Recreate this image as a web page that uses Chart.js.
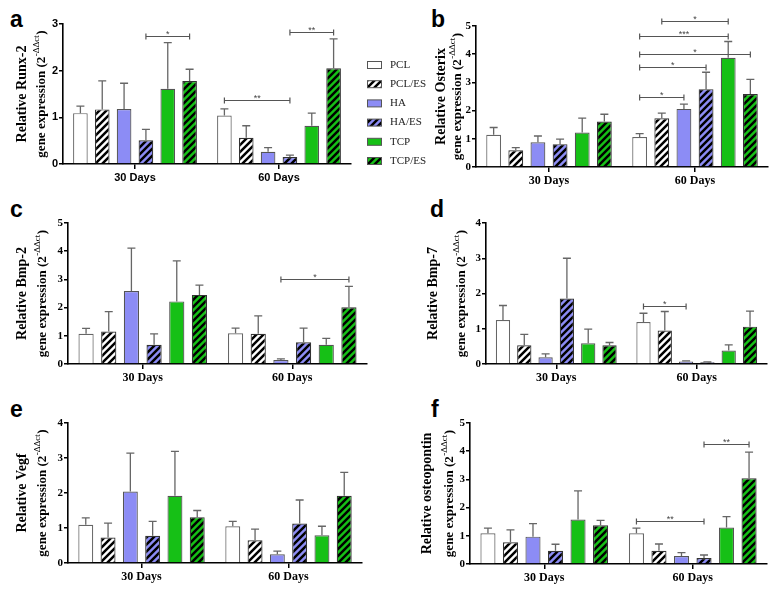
<!DOCTYPE html>
<html>
<head>
<meta charset="utf-8">
<script src="https://cdn.jsdelivr.net/npm/chart.js@4.4.1/dist/chart.umd.min.js"></script>
<style>
  body { margin: 0; background: #fff; width: 781px; height: 594px; position: relative; overflow: hidden; }
  canvas { position: absolute; }
  .tag { position: absolute; font: bold 23px "Liberation Sans", Arial, sans-serif; color: #000; line-height: 1; }
</style>
</head>
<body>
<div class="tag" style="left:10px;top:8px">a</div>
<div class="tag" style="left:431px;top:8px">b</div>
<div class="tag" style="left:10px;top:198px">c</div>
<div class="tag" style="left:430px;top:198px">d</div>
<div class="tag" style="left:10px;top:398px">e</div>
<div class="tag" style="left:431px;top:398px">f</div>

<canvas id="pa" width="430" height="192" style="left:0;top:0"></canvas>
<canvas id="pb" width="381" height="192" style="left:400px;top:0"></canvas>
<canvas id="pc" width="390" height="198" style="left:0;top:192px"></canvas>
<canvas id="pd" width="391" height="198" style="left:390px;top:192px"></canvas>
<canvas id="pe" width="390" height="204" style="left:0;top:390px"></canvas>
<canvas id="pf" width="391" height="204" style="left:390px;top:390px"></canvas>

<script>
const groups = ["PCL", "PCL/ES", "HA", "HA/ES", "TCP", "TCP/ES"];
const days = ["30 Days", "60 Days"];

// ---------------- DATA (mean, sd per group) ----------------
const runx2Day30 = [1.09, 1.17, 1.18, 0.51, 1.61, 1.78];
const runx2Day60 = [1.04, 0.56, 0.26, 0.15, 0.82, 2.05];
const runx2Sd30 = [0.15, 0.61, 0.55, 0.23, 0.99, 0.25];
const runx2Sd60 = [0.14, 0.26, 0.09, 0.04, 0.27, 0.63];
const runx2Sig = [[0, 3, 5, 2.75, "*"], [1, 0, 3, 1.37, "**"], [1, 3, 5, 2.83, "**"]];

const osterixDay30 = [1.14, 0.59, 0.88, 0.81, 1.22, 1.61];
const osterixDay60 = [1.06, 1.73, 2.06, 2.76, 3.87, 2.59];
const osterixSd30 = [0.26, 0.10, 0.22, 0.18, 0.51, 0.26];
const osterixSd60 = [0.12, 0.18, 0.17, 0.60, 0.58, 0.52];
const osterixSig = [[1, 1, 4, 5.19, "*"], [1, 0, 4, 4.66, "***"], [1, 0, 5, 4.01, "*"],
                    [1, 0, 3, 3.53, "*"], [1, 0, 2, 2.47, "*"]];

const bmp2Day30 = [1.07, 1.15, 2.59, 0.68, 2.22, 2.45];
const bmp2Day60 = [1.09, 1.07, 0.14, 0.77, 0.68, 2.01];
const bmp2Sd30 = [0.19, 0.71, 1.52, 0.39, 1.44, 0.35];
const bmp2Sd60 = [0.18, 0.64, 0.04, 0.50, 0.23, 0.74];
const bmp2Sig = [[1, 2, 5, 3.03, "*"]];

const bmp7Day30 = [1.25, 0.53, 0.19, 1.86, 0.59, 0.53];
const bmp7Day60 = [1.19, 0.95, 0.07, 0.05, 0.38, 1.06];
const bmp7Sd30 = [0.41, 0.31, 0.10, 1.14, 0.40, 0.08];
const bmp7Sd60 = [0.25, 0.54, 0.02, 0.01, 0.16, 0.44];
const bmp7Sig = [[1, 0, 2, 1.65, "*"]];

const vegfDay30 = [1.09, 0.73, 2.04, 0.78, 1.92, 1.31];
const vegfDay60 = [1.05, 0.65, 0.25, 1.13, 0.79, 1.92];
const vegfSd30 = [0.20, 0.41, 1.10, 0.41, 1.27, 0.19];
const vegfSd60 = [0.14, 0.32, 0.09, 0.67, 0.26, 0.67];
const vegfSig = [];

const opnDay30 = [1.09, 0.77, 0.97, 0.47, 1.58, 1.37];
const opnDay60 = [1.09, 0.47, 0.28, 0.21, 1.29, 3.04];
const opnSd30 = [0.18, 0.44, 0.46, 0.23, 1.01, 0.18];
const opnSd60 = [0.18, 0.24, 0.12, 0.11, 0.39, 0.93];
const opnSig = [[1, 0, 3, 1.54, "**"], [1, 3, 5, 4.25, "**"]];

// ---------------- ESTILOS ----------------
const SERIF = '"Liberation Serif", "Times New Roman", serif';
const SANS = '"Liberation Sans", Arial, sans-serif';
const WHITE = "#ffffff", PURPLE = "#8c8cf5", GREEN = "#16c016";

function hatch(bg) {
    const c = document.createElement("canvas");
    c.width = c.height = 7;
    const g = c.getContext("2d");
    g.fillStyle = bg;
    g.fillRect(0, 0, 7, 7);
    g.strokeStyle = "#000";
    g.lineWidth = 2.5;
    g.beginPath();
    g.moveTo(-2, 2); g.lineTo(2, -2);
    g.moveTo(-1, 8); g.lineTo(8, -1);
    g.moveTo(5, 9); g.lineTo(9, 5);
    g.stroke();
    return g.createPattern(c, "repeat");
}

const fills = [WHITE, hatch(WHITE), PURPLE, hatch(PURPLE), GREEN, hatch(GREEN)];
const borders = ["#666", "#333", "#555", "#333", "#555", "#333"];

// ---------------- PLUGINS ----------------
const errorBars = {
    id: "errorBars",
    afterDatasetsDraw(chart) {
        const ctx = chart.ctx, y = chart.scales.y;
        ctx.save();
        ctx.strokeStyle = "#666";
        ctx.lineWidth = 1.3;
        chart.data.datasets.forEach((ds, i) => {
            chart.getDatasetMeta(i).data.forEach((bar, j) => {
                const top = y.getPixelForValue(ds.data[j] + ds.sd[j]);
                ctx.beginPath();
                ctx.moveTo(bar.x, bar.y);
                ctx.lineTo(bar.x, top);
                ctx.moveTo(bar.x - 4, top);
                ctx.lineTo(bar.x + 4, top);
                ctx.stroke();
            });
        });
        ctx.restore();
    }
};

const sigBrackets = {
    id: "sigBrackets",
    afterDraw(chart) {
        const ctx = chart.ctx, y = chart.scales.y;
        const sig = chart.options.plugins.sigBrackets.items || [];
        ctx.save();
        ctx.strokeStyle = "#555";
        ctx.fillStyle = "#444";
        ctx.lineWidth = 1.2;
        ctx.font = "9px " + SANS;
        ctx.textAlign = "center";
        ctx.textBaseline = "bottom";
        sig.forEach(([d, a, b, v, s]) => {
            const x1 = chart.getDatasetMeta(a).data[d].x;
            const x2 = chart.getDatasetMeta(b).data[d].x;
            const py = Math.round(y.getPixelForValue(v)) + 0.5;
            ctx.beginPath();
            ctx.moveTo(x1, py); ctx.lineTo(x2, py);
            ctx.moveTo(x1, py - 3); ctx.lineTo(x1, py + 3);
            ctx.moveTo(x2, py - 3); ctx.lineTo(x2, py + 3);
            ctx.stroke();
            ctx.fillText(s, (x1 + x2) / 2, py + 3);
        });
        ctx.restore();
    }
};

const yTitle = {
    id: "yTitle",
    afterDraw(chart) {
        const o = chart.options.plugins.yTitle;
        const a = chart.chartArea, ctx = chart.ctx;
        const cy = (a.top + a.bottom) / 2;
        ctx.save();
        ctx.fillStyle = "#000";
        ctx.textBaseline = "middle";
        ctx.translate(a.left + o.dx1, cy);
        ctx.rotate(-Math.PI / 2);
        ctx.font = "bold 14px " + SERIF;
        ctx.textAlign = "center";
        ctx.fillText(o.text, 0, 0);
        ctx.restore();

        ctx.save();
        ctx.fillStyle = "#000";
        ctx.textBaseline = "middle";
        ctx.textAlign = "left";
        ctx.translate(a.left + o.dx2, cy);
        ctx.rotate(-Math.PI / 2);
        const base = "gene expression (2", sup = "-\u0394\u0394ct", end = ")";
        ctx.font = "bold 13px " + SERIF;
        const w1 = ctx.measureText(base).width, w3 = ctx.measureText(end).width;
        ctx.font = "9px " + SERIF;
        const w2 = ctx.measureText(sup).width + 1;
        let x = -(w1 + w2 + w3) / 2;
        ctx.font = "bold 13px " + SERIF;
        ctx.fillText(base, x, 0);
        x += w1;
        ctx.font = "9px " + SERIF;
        ctx.fillText(sup, x + 0.5, -5);
        x += w2;
        ctx.font = "bold 13px " + SERIF;
        ctx.fillText(end, x, 0);
        ctx.restore();
    }
};

const legendBox = {
    id: "legendBox",
    afterDraw(chart) {
        const o = chart.options.plugins.legendBox;
        if (!o.show) return;
        const ctx = chart.ctx;
        ctx.save();
        ctx.font = "11px " + SERIF;
        ctx.textBaseline = "middle";
        chart.data.datasets.forEach((ds, i) => {
            const cy = o.y + i * 19.2;
            ctx.fillStyle = ds.backgroundColor;
            ctx.fillRect(o.x, cy - 3.5, 15, 7);
            ctx.strokeStyle = "#555";
            ctx.lineWidth = 1;
            ctx.strokeRect(o.x + 0.5, cy - 3.5, 14, 7);
            ctx.fillStyle = "#222";
            ctx.fillText(ds.label, o.x + 23, cy);
        });
        ctx.restore();
    }
};

// ---------------- PAINÉIS ----------------
const Y_AXIS_W = 18, X_AXIS_H = 26;

function criarPainel(p) {
    const [l, r, t, b] = p.area;
    const canvas = document.getElementById(p.id);
    const w = canvas.width, h = canvas.height;
    const fam = p.sans ? SANS : SERIF;

    const datasets = groups.map((g, i) => ({
        label: g,
        data: [p.d30[i], p.d60[i]],
        sd: [p.s30[i], p.s60[i]],
        backgroundColor: fills[i],
        borderColor: borders[i],
        borderWidth: 1.2,
        categoryPercentage: 0.91,
        barPercentage: 0.67
    }));

    return new Chart(canvas, {
        type: "bar",
        data: { labels: days, datasets },
        options: {
            responsive: false,
            animation: false,
            layout: {
                padding: { left: l - Y_AXIS_W, right: w - r, top: t, bottom: h - b - X_AXIS_H }
            },
            plugins: {
                legend: { display: false },
                tooltip: { enabled: false },
                sigBrackets: { items: p.sig },
                yTitle: { text: p.title, dx1: p.dx[0], dx2: p.dx[1] },
                legendBox: { show: !!p.legend, x: 367, y: 65 }
            },
            scales: {
                x: {
                    afterFit: s => { s.height = X_AXIS_H; },
                    border: { display: true, color: "#000", width: 1.6 },
                    grid: { offset: false, drawOnChartArea: false, tickLength: 5, color: "#000", lineWidth: 1.5 },
                    ticks: { color: "#000", padding: 2, font: { family: fam, weight: "bold", size: p.sans ? 11 : 12 } }
                },
                y: {
                    min: 0,
                    max: p.yMax,
                    afterFit: s => { s.width = Y_AXIS_W; },
                    border: { display: true, color: "#000", width: 1.6 },
                    grid: { drawOnChartArea: false, tickLength: 4, color: "#000", lineWidth: 1.5 },
                    ticks: { stepSize: 1, color: "#000", padding: 1, font: { family: fam, weight: "bold", size: 11 } }
                }
            }
        },
        plugins: [errorBars, sigBrackets, yTitle, legendBox]
    });
}

const paineis = [
    { id: "pa", area: [63, 351, 24, 164], yMax: 3, title: "Relative Runx-2", dx: [-41, -21], sans: true, legend: true,
      d30: runx2Day30, d60: runx2Day60, s30: runx2Sd30, s60: runx2Sd60, sig: runx2Sig },
    { id: "pb", area: [76, 368, 26, 167], yMax: 5, title: "Relative Osterix", dx: [-35, -18],
      d30: osterixDay30, d60: osterixDay60, s30: osterixSd30, s60: osterixSd60, sig: osterixSig },
    { id: "pc", area: [68, 367, 31, 172], yMax: 5, title: "Relative Bmp-2", dx: [-46, -25],
      d30: bmp2Day30, d60: bmp2Day60, s30: bmp2Sd30, s60: bmp2Sd60, sig: bmp2Sig },
    { id: "pd", area: [96, 377, 31, 172], yMax: 4, title: "Relative Bmp-7", dx: [-53, -24],
      d30: bmp7Day30, d60: bmp7Day60, s30: bmp7Sd30, s60: bmp7Sd60, sig: bmp7Sig },
    { id: "pe", area: [68, 362, 33, 173], yMax: 4, title: "Relative Vegf", dx: [-46, -25],
      d30: vegfDay30, d60: vegfDay60, s30: vegfSd30, s60: vegfSd60, sig: vegfSig },
    { id: "pf", area: [80, 377, 33, 174], yMax: 5, title: "Relative osteopontin", dx: [-43, -20],
      d30: opnDay30, d60: opnDay60, s30: opnSd30, s60: opnSd60, sig: opnSig }
];

paineis.forEach(criarPainel);
</script>
</body>
</html>
